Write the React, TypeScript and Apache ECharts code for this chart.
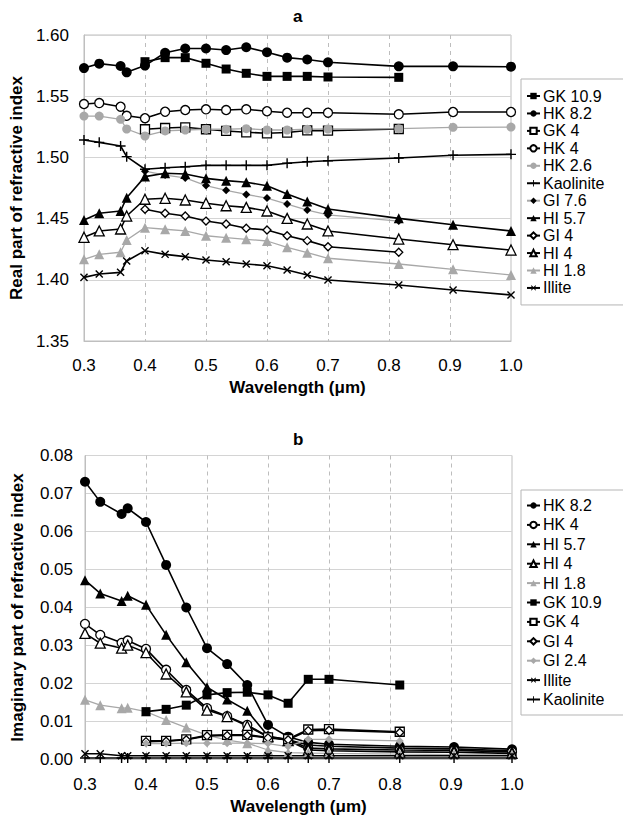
import React, { useEffect, useRef } from "react";
import * as echarts from "echarts";

// Wavelengths (µm) shared by all series
const WL = [0.3, 0.325, 0.36, 0.37, 0.4, 0.433, 0.466, 0.5, 0.533, 0.566, 0.6, 0.633, 0.666, 0.7, 0.816, 0.905, 1.0];

// ---- Panel a: real part of refractive index ----
const A_GK109 = [null, null, null, null, 1.5782, 1.5815, 1.5815, 1.5769, 1.5722, 1.5687, 1.5662, 1.5662, 1.5662, 1.5657, 1.5654, null, null];
const A_HK82 = [1.573, 1.5766, 1.5747, 1.5695, 1.575, 1.5855, 1.589, 1.589, 1.5877, 1.59, 1.5859, 1.5815, 1.58, 1.5777, 1.5744, 1.5744, 1.5741];
const A_GK4 = [null, null, null, null, 1.523, 1.524, 1.5246, 1.523, 1.5216, 1.5205, 1.5197, 1.5203, 1.522, 1.5219, 1.5232, null, null];
const A_HK4 = [1.5436, 1.5444, 1.5414, 1.534, 1.532, 1.5373, 1.5387, 1.5393, 1.5387, 1.5393, 1.5377, 1.5365, 1.5365, 1.5365, 1.5352, 1.5371, 1.5371];
const A_HK26 = [1.5338, 1.5338, 1.5311, 1.5232, 1.5175, 1.5216, 1.5224, 1.523, 1.523, 1.5235, 1.5224, 1.5224, 1.523, 1.5232, 1.5235, 1.5246, 1.5248];
const A_KAOL = [1.5142, 1.5123, 1.5093, 1.5006, 1.4903, 1.4916, 1.4924, 1.4935, 1.4935, 1.4935, 1.4935, 1.4952, 1.4965, 1.4973, 1.4995, 1.5017, 1.5025];
const A_GI76 = [null, null, null, null, 1.4887, 1.4856, 1.4832, 1.477, 1.4731, 1.4697, 1.4668, 1.4619, 1.457, 1.453, 1.448, null, null];
const A_HI57 = [1.4489, 1.4544, 1.4562, 1.4671, 1.4843, 1.487, 1.4864, 1.4829, 1.481, 1.4797, 1.4769, 1.4701, 1.464, 1.4578, 1.4502, 1.445, 1.4399];
const A_GI4 = [null, null, null, null, 1.4576, 1.4544, 1.4521, 1.448, 1.4456, 1.4421, 1.4407, 1.436, 1.432, 1.427, 1.4225, null, null];
const A_HI4 = [1.4347, 1.4399, 1.4415, 1.4521, 1.4658, 1.4666, 1.4652, 1.4625, 1.4605, 1.4592, 1.4562, 1.4502, 1.4456, 1.4399, 1.4333, 1.4287, 1.4243];
const A_HI18 = [1.4167, 1.4208, 1.4225, 1.4325, 1.4426, 1.4413, 1.4399, 1.436, 1.4344, 1.4331, 1.4317, 1.4265, 1.4222, 1.4176, 1.4129, 1.4086, 1.4039];
const A_ILL = [1.402, 1.4047, 1.4061, 1.4154, 1.4238, 1.4208, 1.4189, 1.4162, 1.4148, 1.4129, 1.4115, 1.408, 1.4039, 1.3998, 1.3958, 1.3917, 1.3876];

// ---- Panel b: imaginary part of refractive index ----
const B_HK82 = [0.0731, 0.0678, 0.0646, 0.0661, 0.0625, 0.0512, 0.04, 0.0293, 0.0251, 0.0196, 0.0091, 0.006, 0.0045, 0.004, 0.0035, 0.0033, 0.0027];
const B_HK4 = [0.0357, 0.0328, 0.0307, 0.0313, 0.0291, 0.0236, 0.0183, 0.0135, 0.0114, 0.0091, 0.006, 0.0052, 0.003, 0.0028, 0.0025, 0.0024, 0.002];
const B_HI57 = [0.0472, 0.0437, 0.0417, 0.0431, 0.0407, 0.0328, 0.0256, 0.019, 0.0158, 0.0128, 0.0062, 0.0052, 0.0038, 0.0035, 0.003, 0.0028, 0.0023];
const B_HI4 = [0.0332, 0.0306, 0.0293, 0.0301, 0.0281, 0.0225, 0.0178, 0.013, 0.0113, 0.0088, 0.006, 0.005, 0.0025, 0.0023, 0.002, 0.0019, 0.0016];
const B_HI18 = [0.0157, 0.0143, 0.0135, 0.0136, 0.0126, 0.0104, 0.0084, 0.0064, 0.0051, 0.0043, 0.0025, 0.0018, 0.0017, 0.0016, 0.0014, 0.0013, 0.0012];
const B_GK109 = [null, null, null, null, 0.0126, 0.0132, 0.0143, 0.017, 0.0176, 0.0177, 0.017, 0.0148, 0.0211, 0.0211, 0.0196, null, null];
const B_GK4 = [null, null, null, null, 0.0049, 0.0049, 0.0053, 0.0064, 0.0065, 0.0065, 0.0058, 0.0054, 0.0079, 0.008, 0.0073, null, null];
const B_GI4 = [null, null, null, null, 0.0047, 0.0048, 0.0052, 0.0062, 0.0063, 0.0063, 0.0057, 0.0052, 0.0076, 0.0077, 0.0071, null, null];
const B_GI24 = [null, null, null, null, 0.0042, 0.0042, 0.0043, 0.0043, 0.0043, 0.0043, 0.0042, 0.0034, 0.0053, 0.0053, 0.0049, null, null];
const B_ILL = [0.0015, 0.0015, 0.001, 0.001, 0.001, 0.001, 0.001, 0.001, 0.001, 0.001, 0.001, 0.001, 0.001, 0.001, 0.001, 0.001, 0.001];
const B_KAOL = [0.0004, 0.0004, 0.0004, 0.0004, 0.0004, 0.0004, 0.0004, 0.0004, 0.0004, 0.0004, 0.0004, 0.0004, 0.0004, 0.0004, 0.0004, 0.0004, 0.0004];

const A_SERIES: [string, (number | null)[]][] = [
  ["GK 10.9", A_GK109], ["HK 8.2", A_HK82], ["GK 4", A_GK4], ["HK 4", A_HK4],
  ["HK 2.6", A_HK26], ["Kaolinite", A_KAOL], ["GI 7.6", A_GI76], ["HI 5.7", A_HI57],
  ["GI 4", A_GI4], ["HI 4", A_HI4], ["HI 1.8", A_HI18], ["Illite", A_ILL],
];
const B_SERIES: [string, (number | null)[]][] = [
  ["HK 8.2", B_HK82], ["HK 4", B_HK4], ["HI 5.7", B_HI57], ["HI 4", B_HI4],
  ["HI 1.8", B_HI18], ["GK 10.9", B_GK109], ["GK 4", B_GK4], ["GI 4", B_GI4],
  ["GI 2.4", B_GI24], ["Illite", B_ILL], ["Kaolinite", B_KAOL],
];

const X_MIN = 0.3, X_MAX = 1.0, X_STEP = 0.1;
const A_Y_MIN = 1.35, A_Y_MAX = 1.6, A_Y_STEP = 0.05;
const B_Y_MIN = 0, B_Y_MAX = 0.08, B_Y_STEP = 0.01;

const FONT = 'Arial, "Liberation Sans", sans-serif';
const BLACK = "#000000";
const GRAY = "#a8a8a8";
const PLUS = "path://M4.3,0H5.7V4.3H10V5.7H5.7V10H4.3V5.7H0V4.3H4.3Z";

type Sty = { symbol: string; fill: string; stroke: string; line: string; size: number; rotate?: number };
const STYLES: Record<string, Sty> = {
  "GK 10.9": { symbol: "rect", fill: BLACK, stroke: BLACK, line: BLACK, size: 9 },
  "HK 8.2": { symbol: "circle", fill: BLACK, stroke: BLACK, line: BLACK, size: 10 },
  "GK 4": { symbol: "rect", fill: "#fff", stroke: BLACK, line: BLACK, size: 9 },
  "HK 4": { symbol: "circle", fill: "#fff", stroke: BLACK, line: BLACK, size: 9 },
  "HK 2.6": { symbol: "circle", fill: GRAY, stroke: GRAY, line: GRAY, size: 9 },
  "Kaolinite": { symbol: PLUS, fill: BLACK, stroke: BLACK, line: BLACK, size: 10 },
  "GI 7.6": { symbol: "diamond", fill: BLACK, stroke: BLACK, line: GRAY, size: 8 },
  "HI 5.7": { symbol: "triangle", fill: BLACK, stroke: BLACK, line: BLACK, size: 10 },
  "GI 4": { symbol: "diamond", fill: "#fff", stroke: BLACK, line: BLACK, size: 8 },
  "HI 4": { symbol: "triangle", fill: "#fff", stroke: BLACK, line: BLACK, size: 10 },
  "HI 1.8": { symbol: "triangle", fill: GRAY, stroke: GRAY, line: GRAY, size: 10 },
  "GI 2.4": { symbol: "diamond", fill: GRAY, stroke: GRAY, line: GRAY, size: 8 },
  "Illite": { symbol: PLUS, fill: BLACK, stroke: BLACK, line: BLACK, size: 10, rotate: 45 },
};

function pairs(vals: (number | null)[]) {
  const out: number[][] = [];
  WL.forEach((w, i) => {
    const v = vals[i];
    if (v !== null && v !== undefined) out.push([w, v]);
  });
  return out;
}

function makeSeries(list: [string, (number | null)[]][], idx: number) {
  return list.map(([name, vals]) => {
    const s = STYLES[name];
    const open = s.fill === "#fff";
    return {
      type: "line",
      name,
      xAxisIndex: idx,
      yAxisIndex: idx,
      data: pairs(vals),
      symbol: s.symbol,
      symbolSize: s.size,
      symbolRotate: s.rotate || 0,
      showAllSymbol: true,
      lineStyle: { color: s.line, width: s.line === GRAY ? 1.3 : 1.6 },
      itemStyle: {
        color: s.fill,
        borderColor: s.stroke,
        borderWidth: open ? 1.3 : 0,
      },
      emphasis: { disabled: true },
      z: 3,
    };
  });
}

function xAxis(idx: number) {
  return {
    type: "value",
    gridIndex: idx,
    min: X_MIN,
    max: X_MAX,
    interval: X_STEP,
    axisLine: { show: true, lineStyle: { color: "#bfbfbf", width: 1 } },
    axisTick: { show: false },
    axisLabel: {
      formatter: (v: number) => v.toFixed(1),
      margin: 16,
      fontSize: 17,
      color: BLACK,
      fontFamily: FONT,
    },
    splitLine: {
      show: true,
      showMinLine: false,
      showMaxLine: false,
      lineStyle: { type: [4, 4], color: "#bdbdbd", width: 1 },
    },
    name: "Wavelength (\u03bcm)",
    nameLocation: "middle",
    nameGap: 38,
    nameTextStyle: { fontSize: 17, fontWeight: "bold", color: BLACK, fontFamily: FONT },
  };
}

function yAxis(idx: number, min: number, max: number, step: number, name: string, margin: number, gap: number) {
  return {
    type: "value",
    gridIndex: idx,
    min,
    max,
    interval: step,
    axisLine: { show: true, lineStyle: { color: "#bfbfbf", width: 1 } },
    axisTick: { show: false },
    axisLabel: {
      formatter: (v: number) => v.toFixed(2),
      margin,
      fontSize: 17,
      color: BLACK,
      fontFamily: FONT,
    },
    splitLine: { show: true, lineStyle: { color: "#d4d4d4", width: 1 } },
    name,
    nameLocation: "middle",
    nameGap: gap,
    nameTextStyle: { fontSize: 17, fontWeight: "bold", color: BLACK, fontFamily: FONT },
  };
}

function legend(names: string[], top: number, gap: number, padV: number) {
  return {
    orient: "vertical",
    left: 521,
    top,
    padding: [padV, 40, padV, 5],
    itemGap: gap,
    itemWidth: 13,
    itemHeight: 8,
    borderColor: "#b5b5b5",
    borderWidth: 1,
    backgroundColor: "#fff",
    selectedMode: false,
    data: names,
    textStyle: { fontSize: 16, color: BLACK, fontFamily: FONT, padding: [0, 0, 0, -2] },
  };
}

export default function App() {
  const ref = useRef<HTMLDivElement>(null);
  useEffect(() => {
    if (!ref.current) return;
    const chart = echarts.init(ref.current, undefined, { renderer: "svg" });
    const option = {
      animation: false,
      backgroundColor: "#ffffff",
      title: [
        { text: "a", left: 293, top: 8, padding: 0, textStyle: { fontSize: 17, fontWeight: "bold", color: BLACK, fontFamily: FONT } },
        { text: "b", left: 293, top: 431, padding: 0, textStyle: { fontSize: 17, fontWeight: "bold", color: BLACK, fontFamily: FONT } },
      ],
      grid: [
        { left: 83, top: 35, width: 428, height: 306, show: true, borderColor: "#bfbfbf", borderWidth: 1, backgroundColor: "transparent" },
        { left: 85, top: 455.5, width: 427, height: 304, show: true, borderColor: "#bfbfbf", borderWidth: 1, backgroundColor: "transparent" },
      ],
      xAxis: [xAxis(0), xAxis(1)],
      yAxis: [
        yAxis(0, A_Y_MIN, A_Y_MAX, A_Y_STEP, "Real part of refractive index", 15, 57),
        yAxis(1, B_Y_MIN, B_Y_MAX, B_Y_STEP, "Imaginary part of refractive index", 12, 59),
      ],
      legend: [
        legend(A_SERIES.map((s) => s[0]), 79, 1.45, 9),
        legend(B_SERIES.map((s) => s[0]), 490, 3.4, 7.5),
      ],
      series: [...makeSeries(A_SERIES, 0), ...makeSeries(B_SERIES, 1)],
    };
    chart.setOption(option as any);
    return () => chart.dispose();
  }, []);
  return <div ref={ref} style={{ position: "absolute", left: 0, top: 0, width: 623, height: 827 }} />;
}
